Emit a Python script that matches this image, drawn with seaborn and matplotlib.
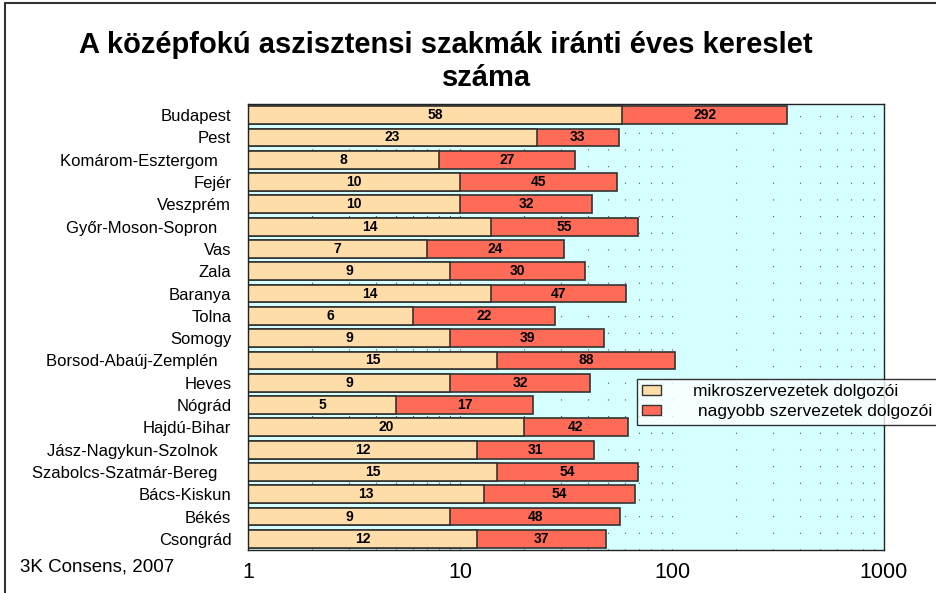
import matplotlib
matplotlib.use("Agg")
import matplotlib.pyplot as plt
import seaborn as sns
import pandas as pd
import numpy as np
from matplotlib.patches import Patch
from matplotlib.lines import Line2D

counties = ["Budapest", "Pest", "Komárom-Esztergom", "Fejér", "Veszprém",
            "Győr-Moson-Sopron", "Vas", "Zala", "Baranya", "Tolna", "Somogy",
            "Borsod-Abaúj-Zemplén", "Heves", "Nógrád", "Hajdú-Bihar",
            "Jász-Nagykun-Szolnok", "Szabolcs-Szatmár-Bereg", "Bács-Kiskun",
            "Békés", "Csongrád"]
micro = [58, 23, 8, 10, 10, 14, 7, 9, 14, 6, 9, 15, 9, 5, 20, 12, 15, 13, 9, 12]
larger = [292, 33, 27, 45, 32, 55, 24, 30, 47, 22, 39, 88, 32, 17, 42, 31, 54, 54, 48, 37]
series_names = ["mikroszervezetek dolgozói", " nagyobb szervezetek dolgozói"]
tick_values = [1, 10, 100, 1000]
# labels in the original carry trailing padding
padded = {"Komárom-Esztergom", "Győr-Moson-Sopron", "Borsod-Abaúj-Zemplén",
          "Jász-Nagykun-Szolnok", "Szabolcs-Szatmár-Bereg"}

sns.set_theme(style="white")
plt.rcParams["font.family"] = ["Liberation Sans", "DejaVu Sans"]
plt.rcParams["text.color"] = "black"
plt.rcParams["xtick.color"] = "black"
plt.rcParams["ytick.color"] = "black"

df = pd.DataFrame({"county": counties, "micro": micro, "larger": larger})
df["total"] = df["micro"] + df["larger"]

c_micro = "#FFDDA8"
c_large = "#FF6B57"

fig = plt.figure(figsize=(9.37, 5.93), dpi=100)
ax = fig.add_axes([248/937, 1-550/593, (884-248)/937, (550-104)/593])
ax.set_facecolor("#D6FFFF")

sns.barplot(data=df, x="total", y="county", orient="h", color=c_large,
            saturation=1, width=0.8, edgecolor="#333333", linewidth=1.2, ax=ax)
sns.barplot(data=df, x="micro", y="county", orient="h", color=c_micro,
            saturation=1, width=0.8, edgecolor="#333333", linewidth=1.2, ax=ax)

ax.set_xscale("log")
ax.set_xlim(1, 1000)
ax.set_ylim(len(counties) - 0.5, -0.5)

# dotted vertical grid at major and minor log positions
grid_x = [m * 10**e for e in range(0, 3) for m in range(1, 10)] + [1000]
for gx in grid_x:
    ax.axvline(gx, color="#555555", lw=0.8, dashes=(1, 14), zorder=0)

for i, (a, b) in enumerate(zip(micro, larger)):
    ax.text(np.sqrt(1 * a), i, str(a), ha="center", va="center",
            fontsize=10, fontweight="bold", color="black")
    ax.text(np.sqrt(a * (a + b)), i, str(b), ha="center", va="center",
            fontsize=10, fontweight="bold", color="black")

ax.set_xticks(tick_values)
ax.set_xticklabels([str(t) for t in tick_values], fontsize=15.5)
ax.xaxis.set_minor_locator(matplotlib.ticker.NullLocator())
ax.tick_params(axis="x", length=0, pad=9)
ax.set_yticks(range(len(counties)))
ax.set_yticklabels([c + "   " if c in padded else c for c in counties])
ax.tick_params(axis="y", length=0, pad=12, labelsize=12)
ax.set_xlabel("")
ax.set_ylabel("")
for s in ax.spines.values():
    s.set_visible(True)
    s.set_color("#222222")
    s.set_linewidth(1.0)

fig.text(446/937, 1-45/593, "A középfokú aszisztensi szakmák iránti éves kereslet",
         ha="center", va="center", fontsize=21, fontweight="bold")
fig.text(487/937, 1-78/593, "száma", ha="center", va="center",
         fontsize=21, fontweight="bold")
fig.text(20/937, 1-567/593, "3K Consens, 2007", ha="left", va="center", fontsize=13.5)

handles = [Patch(facecolor=c_micro, edgecolor="#333333", linewidth=1.0),
           Patch(facecolor=c_large, edgecolor="#333333", linewidth=1.0)]
leg = fig.legend(handles, series_names, loc="upper left",
                 bbox_to_anchor=(637/937, 1-379/593), fontsize=12.5,
                 frameon=True, fancybox=False, edgecolor="black",
                 handlelength=1.1, handleheight=0.5, handletextpad=1.8,
                 borderpad=0.3, labelspacing=0.3, borderaxespad=0)
leg.get_frame().set_linewidth(1.0)

# figure border (top and left)
fig.add_artist(Line2D([5/937, 1], [1-3/593, 1-3/593], color="#333333", lw=1.5))
fig.add_artist(Line2D([5/937, 5/937], [0, 1-3/593], color="#333333", lw=1.5))

fig.savefig("out.png", dpi=100)
